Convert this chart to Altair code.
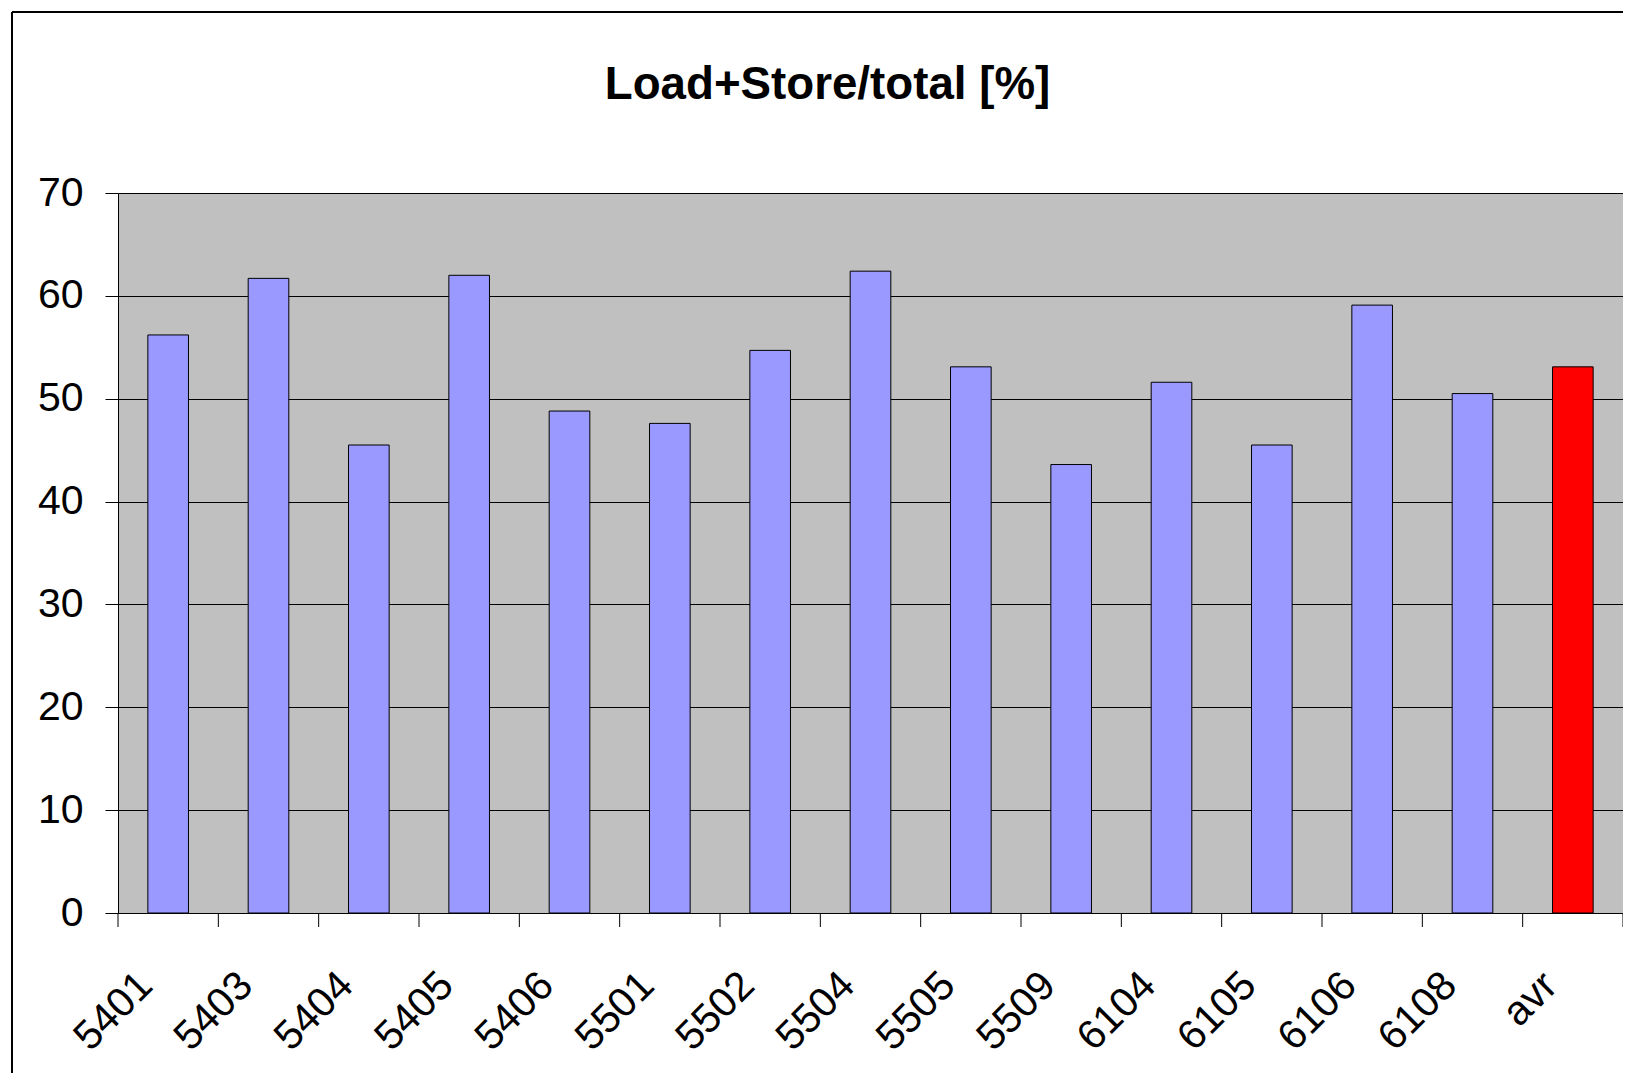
import altair as alt
import pandas as pd

categories = ["5401", "5403", "5404", "5405", "5406", "5501", "5502", "5504",
              "5505", "5509", "6104", "6105", "6106", "6108", "avr"]
values = [56.2, 61.7, 45.5, 62.0, 48.8, 47.6, 54.7, 62.4,
          53.1, 43.6, 51.6, 45.5, 59.1, 50.5, 53.1]
kinds = ["run"] * 14 + ["avr"]
y_ticks = [0, 10, 20, 30, 40, 50, 60, 70]

df = pd.DataFrame({"cat": categories, "value": values, "kind": kinds})
tick_df = pd.DataFrame({"cat": categories})
one = pd.DataFrame({"d": [0]})

W, H = 1505, 720
FONT = "Liberation Sans"

x_scale = alt.Scale(domain=categories, paddingInner=0, paddingOuter=0)
y_scale = alt.Scale(domain=[0, 70], nice=False)

x_axis = alt.Axis(title=None, labelAngle=-45, labelAlign="right",
                  labelBaseline="middle", labelFont=FONT,
                  labelFontSize=41, labelColor="black", ticks=False,
                  labelPadding=66, labelOffset=-22, domainColor="black",
                  domainWidth=1, grid=False, labelOverlap=False)

bars = alt.Chart(df).mark_bar(
    width=alt.RelativeBandSize(0.405), stroke="black", strokeWidth=1
).encode(
    x=alt.X("cat:N", scale=x_scale, sort=categories, axis=x_axis),
    y=alt.Y("value:Q", scale=y_scale,
            axis=alt.Axis(title=None, values=y_ticks, tickSize=13,
                          tickColor="black", labelPadding=22, labelFont=FONT,
                          labelFontSize=41, labelColor="black",
                          domainColor="black", grid=True, gridColor="black",
                          gridWidth=1, gridOpacity=1)),
    color=alt.Color("kind:N",
                    scale=alt.Scale(domain=["run", "avr"],
                                    range=["#9999FF", "#FF0000"]),
                    legend=None),
)

ticks = alt.Chart(tick_df).mark_rule(color="black", strokeWidth=1).encode(
    x=alt.X("cat:N", scale=x_scale, sort=categories, bandPosition=0, axis=x_axis),
    y=alt.value(H), y2=alt.value(H + 14),
)
last_tick = alt.Chart(tick_df.tail(1)).mark_rule(color="black", strokeWidth=1).encode(
    x=alt.X("cat:N", scale=x_scale, sort=categories, bandPosition=1, axis=x_axis),
    y=alt.value(H), y2=alt.value(H + 14),
)

border_left = alt.Chart(one).mark_rule(color="black", strokeWidth=2).encode(
    x=alt.value(-106), y=alt.value(-181), y2=alt.value(H + 300))
border_top = alt.Chart(one).mark_rule(color="black", strokeWidth=2).encode(
    x=alt.value(-106), x2=alt.value(W + 50), y=alt.value(-181))

chart = alt.layer(bars, ticks, last_tick, border_left, border_top).properties(
    width=W, height=H,
    title=alt.TitleParams("Load+Store/total [%]", font=FONT, fontSize=45.7,
                          fontWeight="bold", color="black", anchor="middle",
                          frame="group", baseline="alphabetic", offset=0,
                          dx=-43, dy=134),
    autosize=alt.AutoSizeParams(type="none"),
    padding={"left": 110, "top": 185, "right": 0, "bottom": 160},
).configure_view(fill="#C0C0C0", stroke="#808080", strokeWidth=1)

chart.save("out.html", embed_options={"renderer": "svg", "actions": False})
